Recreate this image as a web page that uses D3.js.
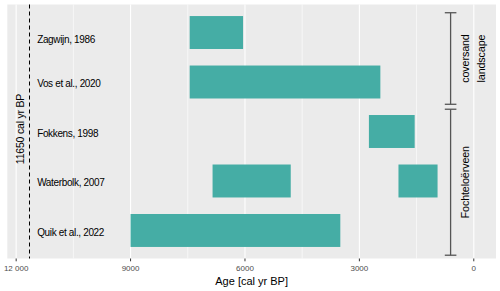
<!DOCTYPE html>
<html>
<head>
<meta charset="utf-8">
<script src="https://cdn.jsdelivr.net/npm/d3@7"></script>
<style>
  body { margin: 0; background: #fff; }
  text { font-family: "Liberation Sans", Arial, Helvetica, sans-serif; }
</style>
</head>
<body>
<div id="chart"></div>
<script>
// --- data ---
const studies = ["Zagwijn, 1986", "Vos et al., 2020", "Fokkens, 1998", "Waterbolk, 2007", "Quik et al., 2022"];
const studyLabelRow = [1.11, 2, 3, 4, 5];

// one entry per bar: row (1 = top), start and end age in cal yr BP
const barRow   = [1, 2, 3, 4, 4, 5];
const barStart = [7450, 7450, 2750, 6850, 1975, 9000];
const barEnd   = [6050, 2450, 1550, 4800, 950, 3500];

const xTicks = [12000, 9000, 6000, 3000, 0];
const xTickLabels = ["12 000", "9000", "6000", "3000", "0"];
const xMinor = [10500, 7500, 4500, 1500];

const markerAge = 11650;
const markerLabel = "11650 cal yr BP";

const groupLabels = [["coversand", "landscape"], ["Fochteloërveen"]];
const groupFrom = [0.6, 2.55];
const groupTo = [2.45, 5.5];

// --- plot sizes ---
const width = 500, height = 291;
const panel = { left: 7.3, right: 496, top: 4.5, bottom: 258.5 };

const svg = d3.select("#chart").append("svg")
  .attr("width", width)
  .attr("height", height);

// scales: limits [11650, 0] with ggplot-like 5% expansion
const xLim = [markerAge, 0];
const xPad = (xLim[0] - xLim[1]) * 0.05;
const x = d3.scaleLinear()
  .domain([xLim[0] + xPad, xLim[1] - xPad])
  .range([panel.left, panel.right]);

const yLo = 1 - 0.333, yHi = 5 + 0.333, yPad = (yHi - yLo) * 0.05;
const y = d3.scaleLinear()
  .domain([yLo - yPad, yHi + yPad])
  .range([panel.top, panel.bottom]);

// panel background
svg.append("rect")
  .attr("x", panel.left).attr("y", panel.top)
  .attr("width", panel.right - panel.left)
  .attr("height", panel.bottom - panel.top)
  .attr("fill", "#ebebeb");

// grid
svg.append("g").selectAll("line").data(xMinor).join("line")
  .attr("x1", d => x(d)).attr("x2", d => x(d))
  .attr("y1", panel.top).attr("y2", panel.bottom)
  .attr("stroke", "#fff").attr("stroke-width", 0.6);

svg.append("g").selectAll("line").data(xTicks).join("line")
  .attr("x1", d => x(d)).attr("x2", d => x(d))
  .attr("y1", panel.top).attr("y2", panel.bottom)
  .attr("stroke", "#fff").attr("stroke-width", 1.1);

// bars
const bars = barRow.map((r, i) => ({ row: r, start: barStart[i], end: barEnd[i] }));
svg.append("g").selectAll("rect").data(bars).join("rect")
  .attr("x", d => x(d.start))
  .attr("width", d => x(d.end) - x(d.start))
  .attr("y", d => y(d.row - 0.333))
  .attr("height", d => y(d.row + 0.333) - y(d.row - 0.333))
  .attr("fill", "#45ada5");

// dashed marker line
svg.append("line")
  .attr("x1", x(markerAge)).attr("x2", x(markerAge))
  .attr("y1", panel.top).attr("y2", panel.bottom)
  .attr("stroke", "#000").attr("stroke-width", 1)
  .attr("stroke-dasharray", "4,3");

svg.append("text")
  .attr("transform", `translate(${x(markerAge) - 9.5}, ${y(2.95)}) rotate(-90)`)
  .attr("text-anchor", "middle")
  .attr("dominant-baseline", "central")
  .attr("font-size", 10.5)
  .attr("letter-spacing", -0.2)
  .attr("fill", "#000")
  .text(markerLabel);

// study labels
svg.append("g").selectAll("text").data(studies).join("text")
  .attr("x", x(11450))
  .attr("y", (d, i) => y(studyLabelRow[i]) + 2.4)
  .attr("font-size", 10)
  .attr("letter-spacing", -0.35)
  .attr("dominant-baseline", "middle")
  .attr("fill", "#000")
  .text(d => d);

// group brackets
const bx = 450.6, capHalf = 5.8;
const brackets = svg.append("g").attr("stroke", "#555").attr("stroke-width", 1.3);
groupFrom.forEach((f, i) => {
  const y0 = y(f), y1 = y(groupTo[i]);
  brackets.append("line").attr("x1", bx).attr("x2", bx).attr("y1", y0).attr("y2", y1);
  brackets.append("line").attr("x1", bx - capHalf).attr("x2", bx + capHalf).attr("y1", y0).attr("y2", y0);
  brackets.append("line").attr("x1", bx - capHalf).attr("x2", bx + capHalf).attr("y1", y1).attr("y2", y1);

  const lines = groupLabels[i];
  const yc = (y0 + y1) / 2;
  lines.forEach((t, j) => {
    svg.append("text")
      .attr("transform", `translate(${465.3 + j * 15.2}, ${yc}) rotate(-90)`)
      .attr("text-anchor", "middle")
      .attr("dominant-baseline", "central")
      .attr("font-size", 10.8)
      .attr("letter-spacing", -0.15)
      .attr("fill", "#000")
      .text(t);
  });
});

// x axis
const ax = svg.append("g");
ax.selectAll("line").data(xTicks).join("line")
  .attr("x1", d => x(d)).attr("x2", d => x(d))
  .attr("y1", panel.bottom).attr("y2", panel.bottom + 2.8)
  .attr("stroke", "#333").attr("stroke-width", 1);

ax.selectAll("text").data(xTicks).join("text")
  .attr("x", d => x(d))
  .attr("y", panel.bottom + 12)
  .attr("text-anchor", "middle")
  .attr("font-size", 8)
  .attr("fill", "#4d4d4d")
  .text((d, i) => xTickLabels[i]);

svg.append("text")
  .attr("x", (panel.left + panel.right) / 2)
  .attr("y", 284.5)
  .attr("text-anchor", "middle")
  .attr("font-size", 11)
  .attr("fill", "#000")
  .text("Age [cal yr BP]");
</script>
</body>
</html>
